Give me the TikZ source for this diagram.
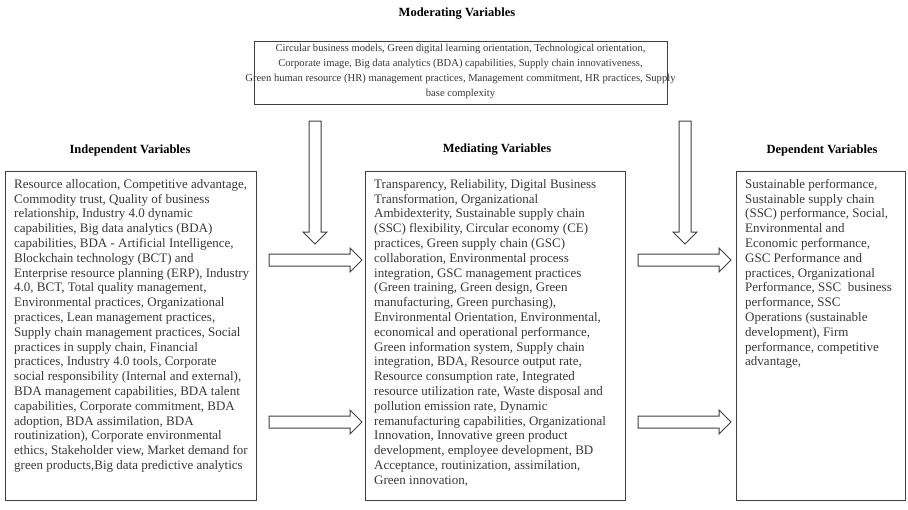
\documentclass[tikz,border=0pt]{standalone}
\usepackage{fontspec}
\setmainfont{Liberation Serif}
\definecolor{boxgray}{HTML}{404040}
\definecolor{txtgray}{HTML}{383838}
\tikzset{
  harr/.pic={\draw[blockarrow] (0,-6) -- (81,-6) -- (81,-12) -- (93,0) -- (81,12) -- (81,6) -- (0,6) -- cycle;},
  varr/.pic={\draw[blockarrow] (-6,0) -- (-6,111) -- (-12,111) -- (0,123) -- (12,111) -- (6,111) -- (6,0) -- cycle;}
}
\begin{document}
\begin{tikzpicture}[x=1pt,y=-1pt,
  box/.style={draw=boxgray, line width=1.3pt, rectangle, inner sep=0pt, anchor=north west},
  body/.style={anchor=north west, align=left, inner sep=0pt, text=txtgray, font=\fontsize{13}{14.8}\selectfont},
  ttl/.style={font=\fontsize{12.5}{14}\selectfont\bfseries, text=black, inner sep=0pt},
  blockarrow/.style={draw=boxgray, line width=1pt, fill=white, line join=miter}]
\useasboundingbox (0,0) rectangle (908,509);

% titles
\node[ttl] (tmod) at (457,14) {Moderating Variables};
\node[ttl] (tind) at (130,150) {Independent Variables};
\node[ttl] (tmed) at (497,150) {Mediating Variables};
\node[ttl] (tdep) at (822,150) {Dependent Variables};

% moderating box
\node[box, minimum width=413, minimum height=63] (mod) at (254,40.5) {};
\node[inner sep=0pt, align=center, text=txtgray, font=\fontsize{10.6}{14.7}\selectfont] (modtxt) at (460.5,71.5)
 {Circular business models, Green digital learning orientation, Technological orientation,\\
  Corporate image, Big data analytics (BDA) capabilities, Supply chain innovativeness,\\
  Green human resource (HR) management practices, Management commitment, HR practices, Supply\\
  base complexity};

% boxes
\node[box, minimum width=251, minimum height=329] (ind) at (5,171) {};
\node[box, minimum width=260, minimum height=329] (med) at (365,171) {};
\node[box, minimum width=169, minimum height=329] (dep) at (736,171) {};

\node[body] (indtxt) at (14,179) {Resource allocation, Competitive advantage,\\
Commodity trust, Quality of business\\
relationship, Industry 4.0 dynamic\\
capabilities, Big data analytics (BDA)\\
capabilities, BDA - Artificial Intelligence,\\
Blockchain technology (BCT) and\\
Enterprise resource planning (ERP), Industry\\
4.0, BCT, Total quality management,\\
Environmental practices, Organizational\\
practices, Lean management practices,\\
Supply chain management practices, Social\\
practices in supply chain, Financial\\
practices, Industry 4.0 tools, Corporate\\
social responsibility (Internal and external),\\
BDA management capabilities, BDA talent\\
capabilities, Corporate commitment, BDA\\
adoption, BDA assimilation, BDA\\
routinization), Corporate environmental\\
ethics, Stakeholder view, Market demand for\\
green products,Big data predictive analytics};

\node[body] (medtxt) at (374,179) {Transparency, Reliability, Digital Business\\
Transformation, Organizational\\
Ambidexterity, Sustainable supply chain\\
(SSC) flexibility, Circular economy (CE)\\
practices, Green supply chain (GSC)\\
collaboration, Environmental process\\
integration, GSC management practices\\
(Green training, Green design, Green\\
manufacturing, Green purchasing),\\
Environmental Orientation, Environmental,\\
economical and operational performance,\\
Green information system, Supply chain\\
integration, BDA, Resource output rate,\\
Resource consumption rate, Integrated\\
resource utilization rate, Waste disposal and\\
pollution emission rate, Dynamic\\
remanufacturing capabilities, Organizational\\
Innovation, Innovative green product\\
development, employee development, BD\\
Acceptance, routinization, assimilation,\\
Green innovation,};

\node[body] (deptxt) at (745,179) {Sustainable performance,\\
Sustainable supply chain\\
(SSC) performance, Social,\\
Environmental and\\
Economic performance,\\
GSC Performance and\\
practices, Organizational\\
Performance, SSC\ \ business\\
performance, SSC\\
Operations (sustainable\\
development), Firm\\
performance, competitive\\
advantage,};

% block arrows
\pic (dl) at (315,121) {varr};
\pic (dr) at (685,121) {varr};
\pic (h1) at (269,260) {harr};
\pic (h2) at (269,422) {harr};
\pic (h3) at (638,260) {harr};
\pic (h4) at (638,422) {harr};
\end{tikzpicture}
\end{document}
